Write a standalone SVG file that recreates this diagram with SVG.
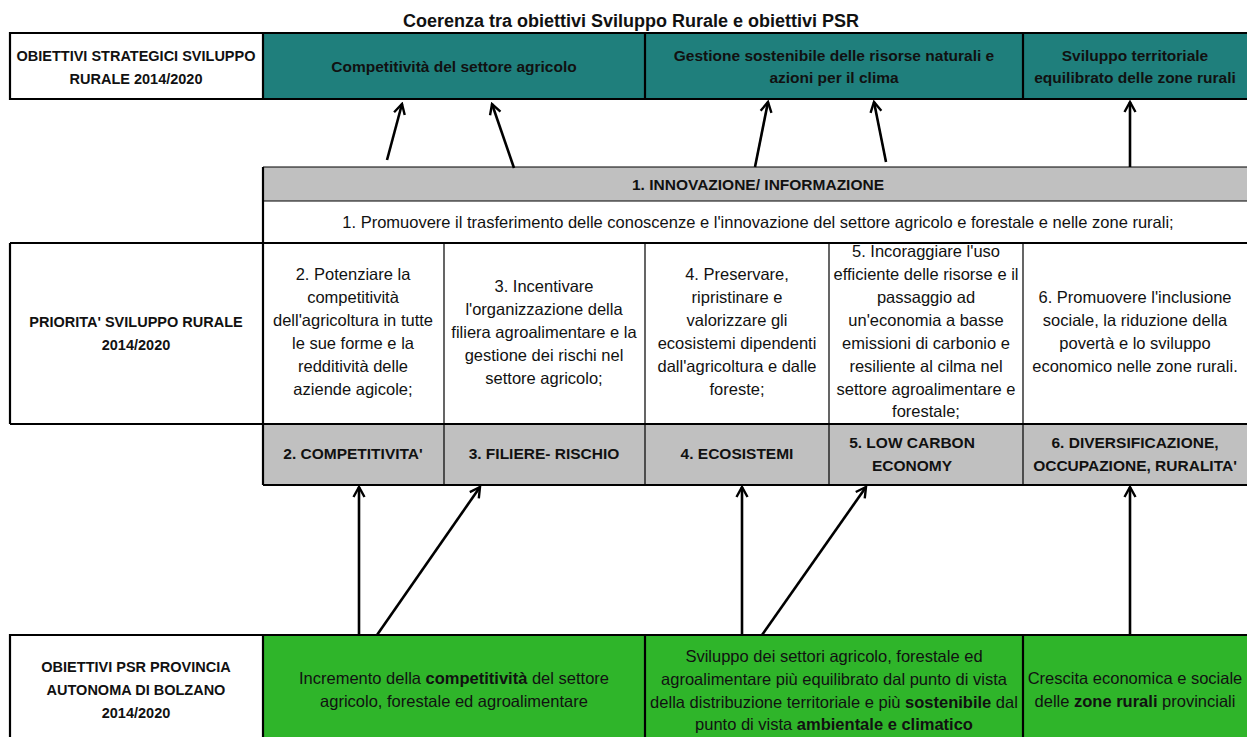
<svg xmlns="http://www.w3.org/2000/svg" width="1247" height="737" viewBox="0 0 1247 737">
<style>
text{font-family:"Liberation Sans",Arial,sans-serif;fill:#111;text-anchor:middle}
.t{font-size:18px;font-weight:bold}
.hb{font-size:14.5px;font-weight:bold}
.gb{font-size:15.5px;font-weight:bold}
.mb{font-size:15.5px;font-weight:bold}
.r{font-size:16.5px}
.b{font-weight:bold}
.teal{fill:#1f7f7c}
.gray{fill:#c0c0c0}
.green{fill:#2fb52a}
.white{fill:#fff}
.thick{stroke:#000;stroke-width:2.2;fill:none}
.thin{stroke:#000;stroke-width:1.2;fill:none}
.arr{stroke:#000;stroke-width:2.6;fill:none;marker-end:url(#ah)}
</style>
<defs>
<marker id="ah" markerUnits="userSpaceOnUse" markerWidth="14" markerHeight="14" viewBox="0 0 14 14" refX="12" refY="7" orient="auto">
<path d="M2,1.5 L12,7 L2,12.5" fill="none" stroke="#000" stroke-width="2.4"/>
</marker>
</defs>
<rect width="1247" height="737" fill="#fff"/>
<text class="t" x="631" y="27">Coerenza tra obiettivi Sviluppo Rurale e obiettivi PSR</text>

<g id="row-obiettivi-strategici">
<rect class="white" x="10" y="33" width="253" height="66"/>
<rect class="teal" x="263" y="33" width="984" height="66"/>
<path class="thick" d="M1248,33 H10 V99 H1248 M263,33 V99 M645,33 V99 M1023,33 V99"/>
<text class="hb" x="136" y="61">OBIETTIVI STRATEGICI SVILUPPO</text>
<text class="hb" x="136" y="84">RURALE 2014/2020</text>
</g>
<g id="obj-competitivita"><text class="mb" x="454" y="72">Competitività del settore agricolo</text></g>
<g id="obj-gestione"><text class="mb" x="834" y="61">Gestione sostenibile delle risorse naturali e</text><text class="mb" x="834" y="83">azioni per il clima</text></g>
<g id="obj-territoriale"><text class="mb" x="1135" y="61">Sviluppo territoriale</text><text class="mb" x="1135" y="83">equilibrato delle zone rurali</text></g>

<g id="priority-1">
<rect class="gray" x="263" y="167" width="984" height="34"/>
<rect class="white" x="263" y="201" width="984" height="42"/>
<path class="thin" d="M263,167 H1248 M263,201 H1248"/>
<text class="gb" x="758" y="190">1. INNOVAZIONE/ INFORMAZIONE</text>
<text class="r" x="758" y="228">1. Promuovere il trasferimento delle conoscenze e l'innovazione del settore agricolo e forestale e nelle zone rurali;</text>
</g>

<g id="priority-grid">
<rect class="gray" x="263" y="424" width="984" height="61"/>
<path class="thin" d="M444,243 V485 M645,243 V485 M829,243 V485 M1023,243 V485"/>
<path class="thick" d="M10,243 H1248 M10,424 H1248 M263,485 H1248 M10,243 V424 M263,167 V485"/>
<text class="hb" x="136" y="327">PRIORITA' SVILUPPO RURALE</text>
<text class="hb" x="136" y="350">2014/2020</text>
</g>

<g id="priority-2">
<text class="r" x="353" y="280">2. Potenziare la</text>
<text class="r" x="353" y="303">competitività</text>
<text class="r" x="353" y="326">dell'agricoltura in tutte</text>
<text class="r" x="353" y="349">le sue forme e la</text>
<text class="r" x="353" y="372">redditività delle</text>
<text class="r" x="353" y="395">aziende agicole;</text>
<text class="gb" x="353" y="459">2. COMPETITIVITA'</text>
</g>
<g id="priority-3">
<text class="r" x="544" y="292">3. Incentivare</text>
<text class="r" x="544" y="315">l'organizzazione della</text>
<text class="r" x="544" y="338">filiera agroalimentare e la</text>
<text class="r" x="544" y="361">gestione dei rischi nel</text>
<text class="r" x="544" y="384">settore agricolo;</text>
<text class="gb" x="544" y="459">3. FILIERE- RISCHIO</text>
</g>
<g id="priority-4">
<text class="r" x="737" y="280">4. Preservare,</text>
<text class="r" x="737" y="303">ripristinare e</text>
<text class="r" x="737" y="326">valorizzare gli</text>
<text class="r" x="737" y="349">ecosistemi dipendenti</text>
<text class="r" x="737" y="372">dall'agricoltura e dalle</text>
<text class="r" x="737" y="395">foreste;</text>
<text class="gb" x="737" y="459">4. ECOSISTEMI</text>
</g>
<g id="priority-5">
<text class="r" x="926" y="257">5. Incoraggiare l'uso</text>
<text class="r" x="926" y="280">efficiente delle risorse e il</text>
<text class="r" x="926" y="303">passaggio ad</text>
<text class="r" x="926" y="326">un'economia a basse</text>
<text class="r" x="926" y="349">emissioni di carbonio e</text>
<text class="r" x="926" y="372">resiliente al cilma nel</text>
<text class="r" x="926" y="395">settore agroalimentare e</text>
<text class="r" x="926" y="417">forestale;</text>
<text class="gb" x="912" y="448">5. LOW CARBON</text>
<text class="gb" x="912" y="471">ECONOMY</text>
</g>
<g id="priority-6">
<text class="r" x="1135" y="303">6. Promuovere l'inclusione</text>
<text class="r" x="1135" y="326">sociale, la riduzione della</text>
<text class="r" x="1135" y="349">povertà e lo sviluppo</text>
<text class="r" x="1135" y="372">economico nelle zone rurali.</text>
<text class="gb" x="1135" y="448">6. DIVERSIFICAZIONE,</text>
<text class="gb" x="1135" y="471">OCCUPAZIONE, RURALITA'</text>
</g>

<g id="row-obiettivi-psr">
<rect class="white" x="10" y="635" width="253" height="105"/>
<rect class="green" x="263" y="635" width="984" height="105"/>
<path class="thick" d="M1248,635 H10 V740 M263,635 V740 M645,635 V740 M1023,635 V740"/>
<text class="hb" x="136" y="672">OBIETTIVI PSR PROVINCIA</text>
<text class="hb" x="136" y="695">AUTONOMA DI BOLZANO</text>
<text class="hb" x="136" y="718">2014/2020</text>
</g>
<g id="psr-competitivita">
<text class="r" x="454" y="684">Incremento della <tspan class="b">competitività</tspan> del settore</text>
<text class="r" x="454" y="707">agricolo, forestale ed agroalimentare</text>
</g>
<g id="psr-sviluppo">
<text class="r" x="834" y="662">Sviluppo dei settori agricolo, forestale ed</text>
<text class="r" x="834" y="685">agroalimentare più equilibrato dal punto di vista</text>
<text class="r" x="834" y="708">della distribuzione territoriale e più <tspan class="b">sostenibile</tspan> dal</text>
<text class="r" x="834" y="730">punto di vista <tspan class="b">ambientale e climatico</tspan></text>
</g>
<g id="psr-crescita">
<text class="r" x="1135" y="684">Crescita economica e sociale</text>
<text class="r" x="1135" y="707">delle <tspan class="b">zone rurali</tspan> provinciali</text>
</g>

<g id="connectors">
<line class="arr" x1="387" y1="160" x2="402" y2="104"/>
<line class="arr" x1="514" y1="168" x2="492" y2="104"/>
<line class="arr" x1="755" y1="167" x2="768" y2="102"/>
<line class="arr" x1="886" y1="162" x2="874" y2="102"/>
<line class="arr" x1="1130" y1="167" x2="1130" y2="102"/>
<line class="arr" x1="359" y1="635" x2="359" y2="487"/>
<line class="arr" x1="377" y1="635" x2="480" y2="487"/>
<line class="arr" x1="742" y1="635" x2="742" y2="487"/>
<line class="arr" x1="762" y1="635" x2="866" y2="487"/>
<line class="arr" x1="1130" y1="635" x2="1130" y2="487"/>
</g>
</svg>
